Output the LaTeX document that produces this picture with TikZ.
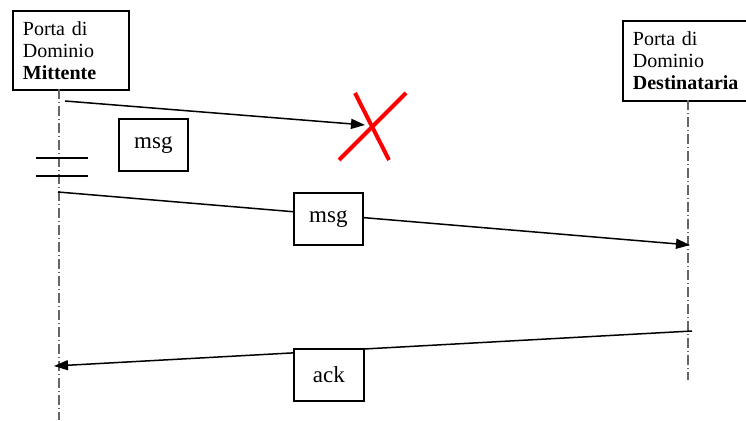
\documentclass[tikz,border=0pt]{standalone}
\usepackage{fontspec}
\setmainfont{Liberation Serif}
\usetikzlibrary{arrows.meta}
\begin{document}
\begin{tikzpicture}[x=1pt,y=-1pt,
  actorbox/.style={draw, line width=1.8pt, anchor=north west, align=left,
    inner xsep=10pt, inner ysep=0pt, font=\fontsize{20}{22}\selectfont},
  msgbox/.style={draw, line width=1.8pt, fill=white, anchor=north west,
    minimum width=69pt, minimum height=52pt, inner sep=0pt,
    font=\fontsize{23}{25}\selectfont},
  lifeline/.style={draw=black!60, line width=1.3pt,
    dash pattern=on 10pt off 3pt on 1pt off 3pt},
  msgarrow/.style={draw, line width=1.5pt, -{Triangle[length=14pt,width=10pt]}},
  breakmark/.style={draw, line width=1.5pt},
  cross/.style={draw=red, line width=4pt}]
\clip (0,0) rectangle (746,420);
\fill[white] (0,0) rectangle (746,420);
% actors
\node[actorbox, text width=96pt, minimum height=79pt] (mitt) at (12,10)
  {Porta di\\Dominio\\\textbf{Mittente}};
\node[actorbox, text width=120pt, minimum height=80pt] (dest) at (622,20)
  {Porta di\\Dominio\\\textbf{Destinataria}};
% lifelines
\coordinate (ltop) at (59,89);
\coordinate (lbot) at (59,420);
\coordinate (rtop) at (688,100);
\coordinate (rbot) at (688,380);
\draw[lifeline] (ltop) -- (lbot);
\draw[lifeline] (rtop) -- (rbot);
% break marks
\coordinate (b1a) at (36,158); \coordinate (b1b) at (88,158);
\coordinate (b2a) at (36,176); \coordinate (b2b) at (88,176);
\draw[breakmark] (b1a) -- (b1b);
\draw[breakmark] (b2a) -- (b2b);
% lost message
\coordinate (m1s) at (65,101);
\coordinate (m1e) at (365,125);
\draw[msgarrow] (m1s) -- (m1e);
\node[msgbox] (msg1) at (118,118) {msg};
% red cross
\coordinate (xa1) at (355,93); \coordinate (xa2) at (389,160);
\coordinate (xb1) at (406,93); \coordinate (xb2) at (339,160);
\draw[cross] (xa1) -- (xa2);
\draw[cross] (xb1) -- (xb2);
% resent message
\coordinate (m2s) at (58,192);
\coordinate (m2e) at (690,245);
\draw[msgarrow] (m2s) -- (m2e);
\node[msgbox] (msg2) at (293,192) {msg};
% ack
\coordinate (m3s) at (692,331);
\coordinate (m3e) at (54,366);
\draw[msgarrow] (m3s) -- (m3e);
\node[msgbox, minimum width=70pt] (ack) at (293,348) {ack};
\end{tikzpicture}
\end{document}
